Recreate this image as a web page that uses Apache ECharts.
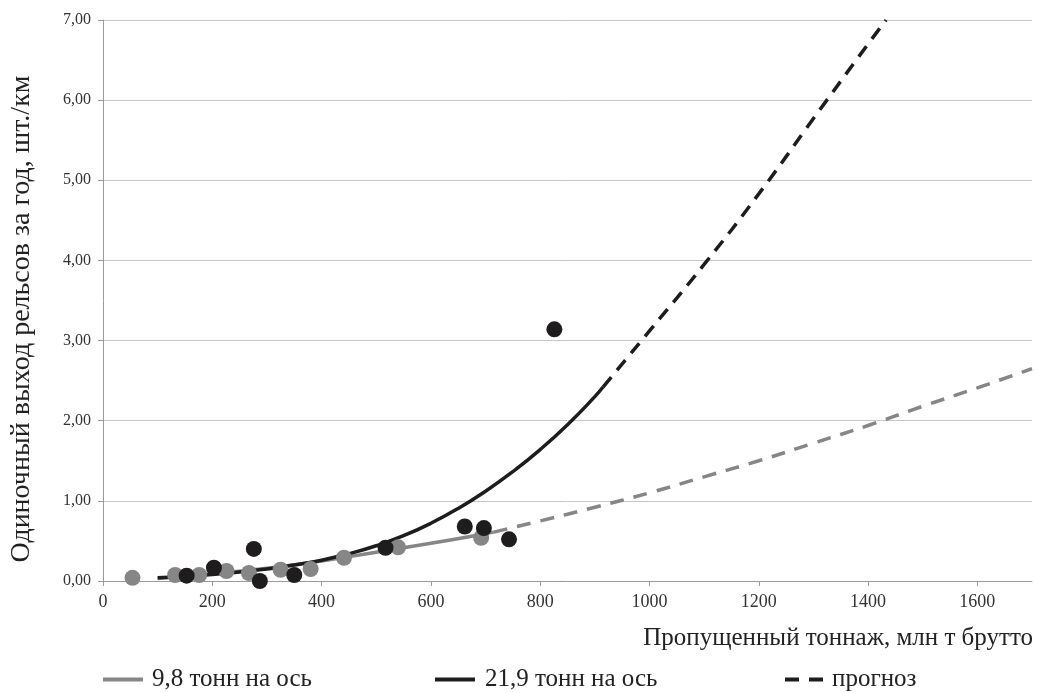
<!DOCTYPE html>
<html>
<head>
<meta charset="utf-8">
<script src="https://cdn.jsdelivr.net/npm/echarts@6/dist/echarts.min.js"></script>
<style>
html,body{margin:0;padding:0;background:#fff;}
#c{width:1037px;height:693px;}
</style>
</head>
<body>
<div id="c"></div>
<script>
// ---- data ----
var grayPointsX = [54, 132, 176, 226, 267, 325, 380, 441, 540, 692];
var grayPointsY = [0.04, 0.075, 0.075, 0.125, 0.10, 0.14, 0.15, 0.29, 0.42, 0.54];
var blackPointsX = [153, 203, 276, 287, 350, 517, 662, 697, 743, 826];
var blackPointsY = [0.066, 0.166, 0.40, 0.0, 0.075, 0.415, 0.68, 0.66, 0.52, 3.14];

var grayTrendX = [100, 200, 300, 400, 500, 600, 700, 715];
var grayTrendY = [0.03, 0.09, 0.16, 0.25, 0.36, 0.47, 0.59, 0.61];
var grayForecastX = [715, 800, 900, 1000, 1100, 1200, 1300, 1400, 1500, 1600, 1700];
var grayForecastY = [0.61, 0.75, 0.92, 1.10, 1.30, 1.50, 1.72, 1.94, 2.18, 2.41, 2.65];

var blackTrendX = [100, 200, 300, 350, 400, 450, 500, 550, 600, 650, 700, 750, 800, 850, 900, 915];
var blackTrendY = [0.04, 0.08, 0.15, 0.20, 0.26, 0.34, 0.44, 0.565, 0.72, 0.905, 1.12, 1.365, 1.64, 1.95, 2.30, 2.42];
var blackForecastX = [915, 1000, 1100, 1200, 1300, 1400, 1433];
var blackForecastY = [2.42, 3.12, 3.95, 4.83, 5.77, 6.70, 7.00];

var xTicks = [0, 200, 400, 600, 800, 1000, 1200, 1400, 1600];

var seriesNames = ['9,8 тонн на ось', '21,9 тонн на ось', 'прогноз'];
var xAxisTitle = 'Пропущенный тоннаж, млн т брутто';
var yAxisTitle = 'Одиночный выход рельсов за год, шт./км';

function pairs(xs, ys) { return xs.map(function (x, i) { return [x, ys[i]]; }); }

var GRAY = '#868686';
var BLACK = '#1e1c1d';
var FONT = 'Liberation Serif';

var chart = echarts.init(document.getElementById('c'), null, {renderer: 'canvas'});
var legendText = {fontFamily: FONT, fontSize: 25, color: '#222', padding: [0, 0, 0, 4]};
var solidIcon = 'path://M0,0H40V4H0Z';
var dashIcon = 'path://M0,0H14V4H0Z M24,0H38V4H24Z';
chart.setOption({
  animation: false,
  backgroundColor: '#fff',
  grid: {left: 103, right: 5, top: 20, bottom: 112, containLabel: false},
  xAxis: {
    type: 'value', min: 0, max: 1700, interval: 200,
    axisLine: {show: true, lineStyle: {color: '#9a9a9a', width: 1}},
    axisTick: {show: true, length: 5, lineStyle: {color: '#9a9a9a'}, customValues: xTicks},
    axisLabel: {fontFamily: FONT, fontSize: 18, color: '#333', margin: 12, customValues: xTicks,
      formatter: function (v) { return String(v); }},
    splitLine: {show: false}
  },
  yAxis: {
    type: 'value', min: 0, max: 7, interval: 1,
    axisLine: {show: true, lineStyle: {color: '#9a9a9a', width: 1}},
    axisTick: {show: true, length: 5, lineStyle: {color: '#9a9a9a'}},
    axisLabel: {fontFamily: FONT, fontSize: 16, color: '#333', margin: 12,
      formatter: function (v) { return v.toFixed(2).replace('.', ','); }},
    splitLine: {show: true, lineStyle: {color: '#c6c6c6', width: 1}}
  },
  legend: [
    {data: [{name: seriesNames[0], icon: solidIcon}], left: 103, top: 667, padding: 0, itemWidth: 40, itemHeight: 4, textStyle: legendText},
    {data: [{name: seriesNames[1], icon: solidIcon}], left: 435, top: 667, padding: 0, itemWidth: 42, itemHeight: 4, textStyle: legendText},
    {data: [{name: seriesNames[2], icon: dashIcon}], left: 785, top: 667, padding: 0, itemWidth: 38, itemHeight: 4, textStyle: legendText}
  ],
  graphic: [
    {type: 'text', right: 4, top: 626,
      style: {text: xAxisTitle, font: '25px "Liberation Serif"', fill: '#222'}},
    {type: 'text', x: 22, y: 319, rotation: Math.PI / 2,
      style: {text: yAxisTitle, font: '28px "Liberation Serif"', fill: '#222', textAlign: 'center', textVerticalAlign: 'middle'}}
  ],
  series: [
    {name: seriesNames[0], type: 'line', data: pairs(grayTrendX, grayTrendY), smooth: true, showSymbol: false, symbol: 'none',
      lineStyle: {color: GRAY, width: 3.5}, itemStyle: {color: GRAY}, z: 2},
    {name: 'gray-forecast', type: 'line', data: pairs(grayForecastX, grayForecastY), smooth: true, showSymbol: false, symbol: 'none',
      lineStyle: {color: GRAY, width: 3.5, type: [14, 10]}, itemStyle: {color: GRAY}, z: 2},
    {name: seriesNames[1], type: 'line', data: pairs(blackTrendX, blackTrendY), smooth: 0.5, showSymbol: false, symbol: 'none',
      lineStyle: {color: BLACK, width: 3.5}, itemStyle: {color: BLACK}, z: 3},
    {name: seriesNames[2], type: 'line', data: pairs(blackForecastX, blackForecastY), smooth: true, showSymbol: false, symbol: 'none',
      lineStyle: {color: BLACK, width: 3.5, type: [13, 9]}, itemStyle: {color: BLACK}, z: 3},
    {name: 'gray-points', type: 'scatter', data: pairs(grayPointsX, grayPointsY), symbolSize: 16,
      itemStyle: {color: GRAY, opacity: 1}, z: 4},
    {name: 'black-points', type: 'scatter', data: pairs(blackPointsX, blackPointsY), symbolSize: 16,
      itemStyle: {color: BLACK, opacity: 1}, z: 5}
  ]
});
</script>
</body>
</html>
